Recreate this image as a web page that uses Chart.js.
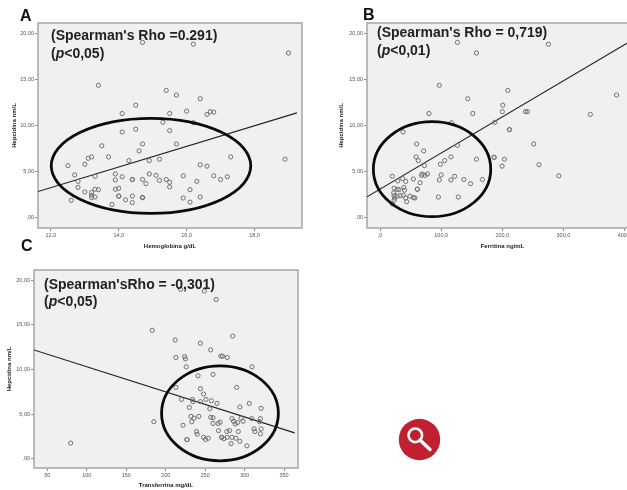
<!DOCTYPE html>
<html>
<head>
<meta charset="utf-8">
<style>
html,body{margin:0;padding:0;background:#fff;width:627px;height:490px;overflow:hidden}
.panel{position:absolute;filter:blur(0.45px)}
svg{position:absolute;left:398px;top:418px}
</style>
<script src="https://cdn.jsdelivr.net/npm/chart.js@4"></script>
</head>
<body>
<div class="panel" style="left:0;top:0;width:313px;height:252px"><canvas id="a"></canvas></div>
<div class="panel" style="left:320px;top:0;width:318px;height:252px"><canvas id="b"></canvas></div>
<div class="panel" style="left:0;top:236px;width:313px;height:254px"><canvas id="c"></canvas></div>
<svg width="43" height="43" viewBox="0 0 43 43">
<circle cx="21.5" cy="21.5" r="20.7" fill="#c0202f"/>
<circle cx="17.3" cy="17.3" r="6.8" fill="none" stroke="#fff" stroke-width="2.6"/>
<line x1="22" y1="22" x2="32" y2="31.5" stroke="#fff" stroke-width="3.4" stroke-linecap="round"/>
</svg>
<script>
const hepTicks = [0, 5, 10, 15, 20];
const hepLabels = [",00", "5,00", "10,00", "15,00", "20,00"];

const aTicks = [12, 14, 16, 18];
const aLabels = ["12,0", "14,0", "16,0", "18,0"];
const aX = [14.7,16.2,19.0,13.4,15.4,15.7,16.4,14.5,14.1,15.5,16.0,16.6,16.7,16.8,15.3,16.2,14.1,14.5,15.5,13.5,14.7,15.7,14.6,13.1,13.2,13.7,17.3,18.9,15.2,14.9,14.3,12.5,13.0,16.4,16.6,12.7,13.3,13.9,14.1,14.9,15.1,15.9,16.8,17.2,12.8,13.9,14.4,14.4,14.7,14.8,15.2,15.4,15.5,16.3,17.0,12.8,13.0,13.3,13.4,13.9,14.0,15.5,16.1,13.2,13.2,13.2,13.3,14.0,14.0,14.4,14.7,14.7,14.7,14.2,15.9,16.4,12.6,13.8,14.4,16.1];
const aY = [19.0,18.8,17.85,14.35,13.8,13.3,12.9,12.2,11.3,11.3,11.55,11.2,11.5,11.45,10.35,10.3,9.3,9.6,9.45,7.8,8.0,8.0,7.25,6.45,6.6,6.6,6.6,6.35,6.35,6.2,6.2,5.65,5.8,5.75,5.6,4.65,4.5,4.75,4.45,4.75,4.6,4.55,4.55,4.45,3.95,4.1,4.15,4.15,4.15,3.7,4.05,4.15,3.85,3.95,4.15,3.3,2.8,3.1,3.05,3.1,3.2,3.35,3.05,2.75,2.45,2.2,2.25,2.35,2.35,2.35,2.2,2.2,2.2,1.95,2.15,2.25,1.9,1.45,1.65,1.7];
const aFitX = [11.62, 19.25];
const aFitY = [2.85, 11.37];
const aOval = [14.95, 5.63, 2.94, 5.14];

const bTicks = [0, 100, 200, 300, 400];
const bLabels = [",0", "100,0", "200,0", "300,0", "400,0"];
const bX = [126.6,275.5,157.7,97,209,387,143.5,200.8,80,151.7,200,238,241,344,117,188,37.6,211.7,211.7,60,126.6,251.5,71.5,59,62.7,116,186.6,186.6,105.8,157.7,203.5,72.6,98.7,199.7,260,292.4,20,29,37,42,54.6,65.5,68,69,73.6,77.5,97,100,116,122,137,148,167.5,23,28,31,39,40,61,61,22.4,23,24,28,32.7,38,42,49,54.6,57,95.5,128,23,20,43.6];
const bY = [19.0,18.8,17.85,14.35,13.8,13.3,12.9,12.2,11.3,11.3,11.5,11.5,11.5,11.2,10.3,10.35,9.3,9.55,9.55,8.0,7.85,8.0,7.25,6.6,6.2,6.6,6.55,6.55,6.2,6.35,6.35,5.65,5.8,5.6,5.75,4.55,4.5,4.0,4.25,3.95,4.2,3.8,4.6,4.75,4.6,4.75,4.1,4.65,4.1,4.5,4.15,3.7,4.15,3.2,3.1,3.05,3.3,3.0,3.1,3.1,2.7,2.4,2.15,2.35,2.4,2.45,2.15,2.35,2.2,2.15,2.25,2.25,1.9,1.5,1.75];
const bFitX = [-21.3, 404];
const bFitY = [2.27, 18.9];
const bOval = [85.1, 5.27, 96, 5.14];

const cTicks = [50, 100, 150, 200, 250, 300, 350];
const cLabels = ["50", "100", "150", "200", "250", "300", "350"];
const cX = [219,249,264,183,285,212,244,257,213,224,225,270,272,278,226,309.5,241,260,213,244,290,248,220,234,234.5,244,251,258,265,306,230,256,294,321,232,236,242,257,260,284,295.5,309,320,185,233,260,266.5,269,286,288,291,298,319,222,239,240,267,277.5,281,292,312,313,321,320,227,227,248,250.5,254,271,271,273.6,278,284,289,294,283,303,79.5];
const cY = [19.0,18.8,17.85,14.4,13.75,13.3,12.95,12.2,11.35,11.45,11.2,11.5,11.5,11.35,10.3,10.3,9.3,9.45,8.0,7.85,8.0,7.25,6.65,6.65,6.4,6.4,6.65,6.5,6.2,6.2,5.75,5.6,5.8,5.65,4.75,4.55,4.75,4.65,4.6,4.5,4.55,4.5,4.5,4.15,4.15,3.95,3.95,4.1,4.2,3.9,4.05,4.2,4.15,3.75,3.05,2.75,3.15,3.05,3.15,3.05,3.35,3.05,3.35,2.8,2.15,2.15,2.4,2.15,2.3,2.4,2.4,2.25,2.4,2.4,2.3,1.95,1.7,1.45,1.75];
const cFitX = [33.1, 363.5];
const cFitY = [12.2, 2.9];
const cOval = [268.8, 5.09, 74, 5.32];

const zip = (xs, ys) => xs.map((x, i) => ({x, y: ys[i]}));

const panelArt = {
  id: 'panelArt',
  beforeDatasetsDraw(chart, _a, o) {
    const {ctx, chartArea: r} = chart;
    ctx.save();
    ctx.fillStyle = '#f0f0f0';
    ctx.fillRect(r.left, r.top, r.width, r.height);
    ctx.strokeStyle = '#ababab';
    ctx.lineWidth = 1.6;
    ctx.strokeRect(r.left, r.top, r.width, r.height);
    ctx.restore();
  },
  afterDatasetsDraw(chart, _a, o) {
    const {ctx, scales: {x, y}} = chart;
    const [cx, cy, rx, ry] = o.oval;
    ctx.save();
    ctx.beginPath();
    ctx.ellipse(x.getPixelForValue(cx), y.getPixelForValue(cy),
      Math.abs(x.getPixelForValue(cx + rx) - x.getPixelForValue(cx)),
      Math.abs(y.getPixelForValue(cy + ry) - y.getPixelForValue(cy)), 0, 0, Math.PI * 2);
    ctx.strokeStyle = '#0a0a0a';
    ctx.lineWidth = 2.8;
    ctx.stroke();

    ctx.fillStyle = '#111';
    ctx.textBaseline = 'alphabetic';
    ctx.font = 'bold 16px "Liberation Sans"';
    ctx.fillText(o.letter, o.letterPos[0], o.letterPos[1]);

    ctx.fillStyle = '#222';
    ctx.font = 'bold ' + o.rhoSize + 'px "Liberation Sans"';
    ctx.fillText(o.rho, o.rhoPos[0], o.rhoPos[1]);
    let px = o.rhoPos[0];
    const py = o.rhoPos[1] + 17.5;
    ctx.fillText('(', px, py); px += ctx.measureText('(').width;
    ctx.font = 'italic bold ' + o.rhoSize + 'px "Liberation Sans"';
    ctx.fillText('p', px, py); px += ctx.measureText('p').width;
    ctx.font = 'bold ' + o.rhoSize + 'px "Liberation Sans"';
    ctx.fillText(o.sig, px, py);
    ctx.restore();
  }
};

function panel(id, c) {
  const axisCommon = (ticks, labels, min, max, title, fit, titlePad) => ({
    type: 'linear', min, max,
    afterBuildTicks: s => { s.ticks = ticks.map(value => ({value})); },
    grid: {drawOnChartArea: false, drawTicks: true, tickLength: 3, color: '#8a8a8a', lineWidth: 1},
    border: {display: false},
    ticks: {
      autoSkip: false, maxRotation: 0, padding: 1, color: '#555',
      font: {family: '"Liberation Sans"', size: 5.5},
      callback: v => labels[ticks.indexOf(v)]
    },
    title: {display: true, text: title, color: '#222',
      font: {family: '"Liberation Sans"', size: 6, weight: 'bold'},
      padding: {top: titlePad, bottom: titlePad}},
    afterFit: fit
  });
  new Chart(document.getElementById(id), {
    type: 'scatter',
    data: {datasets: [
      {data: zip(c.xs, c.ys), showLine: false, pointRadius: 2.1, pointBorderWidth: 1,
       pointBorderColor: '#707070', pointBackgroundColor: 'rgba(0,0,0,0)'},
      {data: zip(c.fitX, c.fitY), showLine: true, pointRadius: 0, borderColor: '#222', borderWidth: 1.1}
    ]},
    options: {
      responsive: true, maintainAspectRatio: false, animation: false,
      layout: {autoPadding: false, padding: {left: 0, top: c.top, right: c.right, bottom: 0}},
      plugins: {
        legend: {display: false}, tooltip: {enabled: false},
        panelArt: {oval: c.oval, letter: c.letter, letterPos: c.letterPos, rho: c.rho,
                   rhoPos: c.rhoPos, rhoSize: c.rhoSize, sig: c.sig}
      },
      scales: {
        x: axisCommon(c.xTicks, c.xLabels, c.xMin, c.xMax, c.xTitle, s => { s.height = c.bottomH; }, c.xPad),
        y: axisCommon(hepTicks, hepLabels, c.yMin, c.yMax, 'Hepcidina nm/L', s => { s.width = c.leftW; }, c.yPad)
      }
    },
    plugins: [panelArt]
  });
}

panel('a', {xs: aX, ys: aY, fitX: aFitX, fitY: aFitY, oval: aOval, xTicks: aTicks, xLabels: aLabels,
  xMin: 11.62, xMax: 19.4, yMin: -1.1, yMax: 21.1, xTitle: 'Hemoglobina g/dL',
  top: 23, right: 11, leftW: 38, bottomH: 24, xPad: 2.4, yPad: 10.4,
  letter: 'A', letterPos: [20, 21], rho: "(Spearman's Rho =0.291)", rhoPos: [51, 40], rhoSize: 14, sig: '<0,05)'});

panel('b', {xs: bX, ys: bY, fitX: bFitX, fitY: bFitY, oval: bOval, xTicks: bTicks, xLabels: bLabels,
  xMin: -21.3, xMax: 422, yMin: -1.1, yMax: 21.1, xTitle: 'Ferritina ng/mL',
  top: 23, right: 0, leftW: 47, bottomH: 24, xPad: 2.4, yPad: 18,
  letter: 'B', letterPos: [43, 20], rho: "(Spearman's Rho = 0,719)", rhoPos: [57, 37], rhoSize: 14, sig: '<0,01)'});

panel('c', {xs: cX, ys: cY, fitX: cFitX, fitY: cFitY, oval: cOval, xTicks: cTicks, xLabels: cLabels,
  xMin: 33.1, xMax: 367.7, yMin: -1.04, yMax: 21.16, xTitle: 'Transferrina mg/dL',
  top: 34, right: 15, leftW: 34, bottomH: 22, xPad: 1, yPad: 5.4,
  letter: 'C', letterPos: [21, 15], rho: "(Spearman'sRho = -0,301)", rhoPos: [44, 52.5], rhoSize: 14, sig: '<0,05)'});
</script>
</body>
</html>
